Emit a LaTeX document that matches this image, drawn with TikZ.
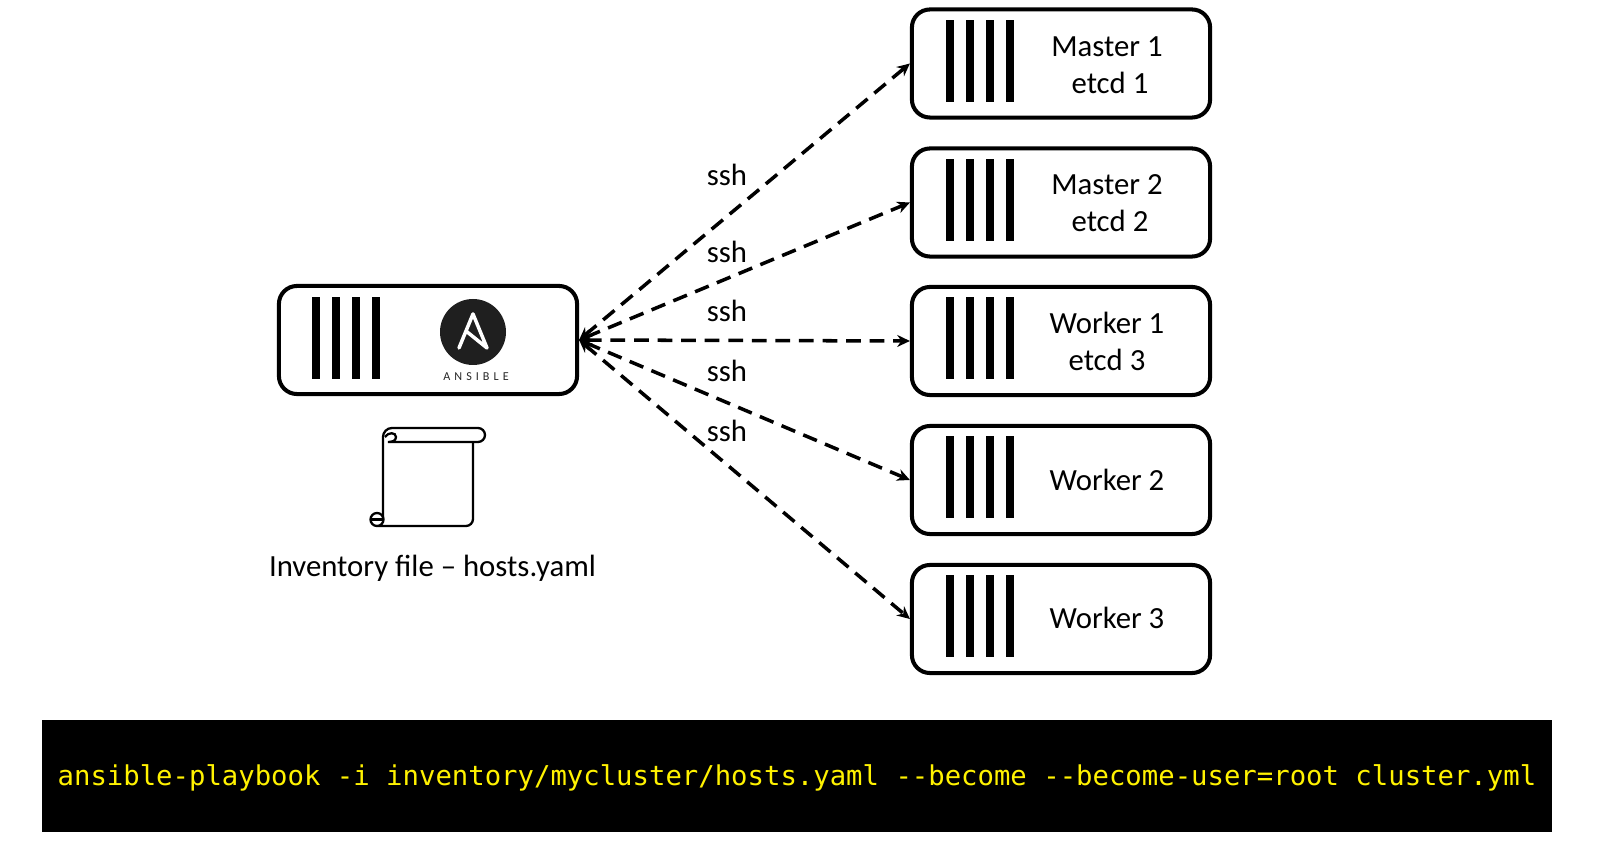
\documentclass[tikz,border=0pt]{standalone}
\usepackage{fontspec}
\setmainfont{Carlito}
\newfontfamily\cmdfont{DejaVu Sans Mono}
\usetikzlibrary{arrows.meta}

\tikzset{
    srvbox/.style={draw, line width=1.15pt, rounded corners=0.18cm, minimum width=2.98cm, minimum height=1.08cm, inner sep=0pt},
    srvtext/.style={font=\fontsize{8.75}{10}\selectfont, inner sep=0pt},
    sshlink/.style={<->, >={Stealth[length=3.6pt,width=3.4pt]}, line width=1pt, dash pattern=on 4.2pt off 2.5pt},
    scroll/.style={line width=0.65pt},
}

\begin{document}
\begin{tikzpicture}[x=0.01cm,y=-0.01cm]
    \useasboundingbox (0,0) rectangle (1608,852);

    % boxes
    \node[srvbox] (ans) at (428,340) {};
    \node[srvbox] (mOne) at (1061,63.5) {};
    \node[srvbox] (mTwo) at (1061,202.5) {};
    \node[srvbox] (wOne) at (1061,341) {};
    \node[srvbox] (wTwo) at (1061,480) {};
    \node[srvbox] (wThree) at (1061,619) {};

    % bars
    \foreach \y in {9,148,286,425,564}
        \foreach \b in {0,1,2,3}
            \fill (946+20*\b,\y+11) rectangle ++(8,82);
    \foreach \b in {0,1,2,3}
        \fill (312+20*\b,297) rectangle ++(8,82);

    % box texts
    \node[srvtext] (tMOne) at (1107,46.5) {Master 1};
    \node[srvtext] (tEOne) at (1110,83) {etcd 1};
    \node[srvtext] (tMTwo) at (1107,185) {Master 2};
    \node[srvtext] (tETwo) at (1110,221) {etcd 2};
    \node[srvtext] (tWOne) at (1107,323) {Worker 1};
    \node[srvtext] (tEThree) at (1107,360) {etcd 3};
    \node[srvtext] (tWTwo) at (1107,480) {Worker 2};
    \node[srvtext] (tWThree) at (1107,618) {Worker 3};

    % logo
    \fill[black!88] (473,332) circle (33);
    \draw[white, line width=1pt, line join=round, line cap=round] (459,348) -- (473,314) -- (487,348) -- (466,331);
    \node[font=\fontsize{3.45}{4}\selectfont, inner sep=0pt, text=black!85] (ansLabel) at (476,377) {A\,\,N\,\,S\,\,I\,\,B\,\,L\,\,E};

    % scroll
    \draw[scroll] (383,519) -- (383,437) arc (180:270:9) -- (478,428) arc (-90:90:7) -- (390,442);
    \draw[scroll] (385,437) .. controls (388,432) and (396,432) .. (396,437) .. controls (396,441) and (392,442) .. (388,442) -- (390,442);
    \draw[scroll] (473,442) -- (473,519) arc (0:90:7) -- (377,526) arc (90:450:6.5);
    \draw[scroll] (370.5,519.5) -- (383,519.5);
    \node[srvtext] (invText) at (432.5,568) {Inventory file – hosts.yaml};

    % ssh arrows
    \draw[sshlink] (ans.east) -- (mOne.west);
    \draw[sshlink] (ans.east) -- (mTwo.west);
    \draw[sshlink] (ans.east) -- (wOne.west);
    \draw[sshlink] (ans.east) -- (wTwo.west);
    \draw[sshlink] (ans.east) -- (wThree.west);

    \node[srvtext] (sshA) at (727,175) {ssh};
    \node[srvtext] (sshB) at (727,252) {ssh};
    \node[srvtext] (sshC) at (727,311) {ssh};
    \node[srvtext] (sshD) at (727,371) {ssh};
    \node[srvtext] (sshE) at (727,431) {ssh};

    % command
    \node[fill=black, minimum width=15.10cm, minimum height=1.12cm, inner sep=0pt] (cmd) at (797,776) {};
    \node[text=yellow, inner sep=0pt, font=\cmdfont\fontsize{7.76}{10}\selectfont] (cmdText) at (797,778) {ansible-playbook -i inventory/mycluster/hosts.yaml --become --become-user=root cluster.yml};

\end{tikzpicture}
\end{document}
